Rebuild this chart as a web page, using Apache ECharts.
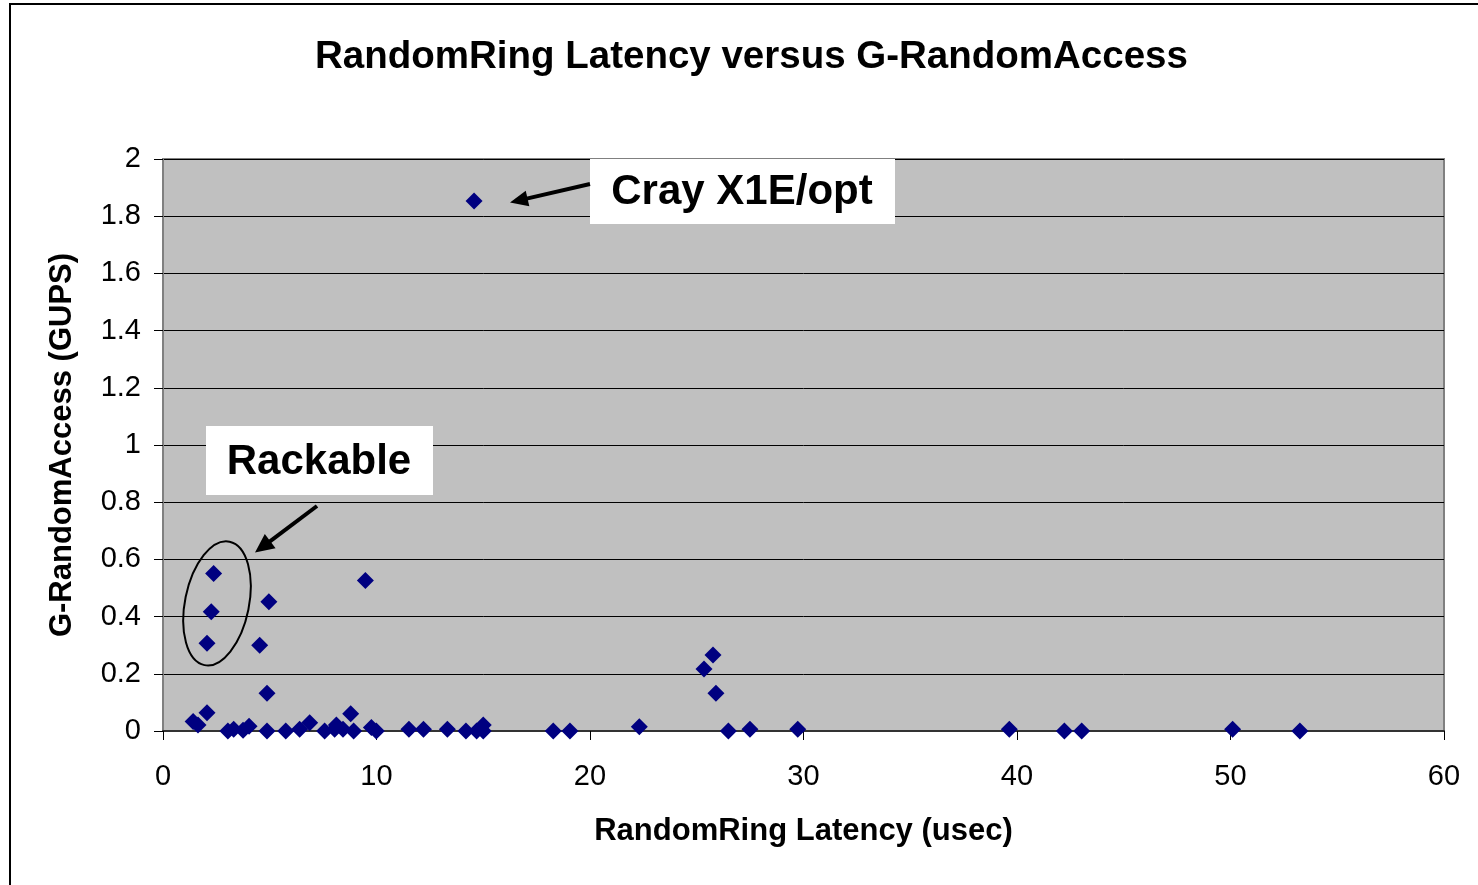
<!DOCTYPE html>
<html>
<head>
<meta charset="utf-8">
<script src="https://cdn.jsdelivr.net/npm/echarts@6/dist/echarts.min.js"></script>
<style>
html,body{margin:0;padding:0;background:#fff;}
#chart{width:1478px;height:885px;}
</style>
</head>
<body>
<div id="chart"></div>
<script>
// RandomRing latency (usec)
var latency = [1.41,1.64,2.06,2.06,2.26,2.37,3.04,3.31,3.75,4.03,4.53,4.87,4.87,4.96,5.75,6.40,6.87,7.57,8.04,8.12,8.43,8.79,8.93,9.48,9.76,9.99,11.52,12.2,13.32,14.19,14.57,14.69,15.0,15.0,18.28,19.06,22.31,25.34,25.76,25.9,26.48,27.49,29.73,39.64,42.22,43.03,50.1,53.25];
// G-RandomAccess (GUPS)
var gups = [0.033,0.021,0.064,0.307,0.417,0.551,0,0.006,0.003,0.017,0.30,0.132,0,0.452,0,0.006,0.029,0,0.006,0.021,0.006,0.06,0,0.526,0.012,0,0.006,0.006,0.006,0,1.853,0,0.021,0,0,0,0.015,0.217,0.266,0.132,0,0.006,0.006,0.006,0,0,0.006,0];
var xTicks = ['0','10','20','30','40','50','60'];
var yTicks = ['0','0.2','0.4','0.6','0.8','1','1.2','1.4','1.6','1.8','2'];
var titleText = 'RandomRing Latency versus G-RandomAccess';
var xName = 'RandomRing Latency (usec)';
var yName = 'G-RandomAccess (GUPS)';
var notes = ['Cray X1E/opt', 'Rackable'];

var points = latency.map(function(x, i){ return [x, gups[i]]; });
var FONT = 'Liberation Sans, Arial, sans-serif';

function arrow(x1, y1, x2, y2, headLen, headHalf, w){
  var dx = x2 - x1, dy = y2 - y1, L = Math.sqrt(dx*dx + dy*dy);
  var ux = dx / L, uy = dy / L, px = -uy, py = ux;
  var bx = x2 - ux * headLen, by = y2 - uy * headLen;
  return [
    {type:'line', shape:{x1:x1, y1:y1, x2:bx + ux*2, y2:by + uy*2}, style:{stroke:'#000', lineWidth:w}, z:100},
    {type:'polygon', shape:{points:[[x2,y2],[bx+px*headHalf, by+py*headHalf],[bx-px*headHalf, by-py*headHalf]]}, style:{fill:'#000'}, z:100}
  ];
}

var chart = echarts.init(document.getElementById('chart'), null, {renderer:'canvas'});
var graphics = [
  {type:'rect', shape:{x:10, y:4, width:1500, height:1000}, style:{fill:null, stroke:'#000', lineWidth:2}, z:-10, silent:true},
  {type:'rect', shape:{x:590, y:159, width:305, height:65}, style:{fill:'#fff'}, z:100},
  {type:'text', x:742, y:192, style:{text:notes[0], font:'bold 42px ' + FONT, fill:'#000', textAlign:'center', textVerticalAlign:'middle'}, z:101},
  {type:'rect', shape:{x:206, y:426, width:227, height:69}, style:{fill:'#fff'}, z:100},
  {type:'text', x:319, y:462, style:{text:notes[1], font:'bold 42px ' + FONT, fill:'#000', textAlign:'center', textVerticalAlign:'middle'}, z:101},
  {type:'ellipse', x:217, y:603.4, rotation:-0.2, shape:{cx:0, cy:0, rx:32, ry:63}, style:{fill:null, stroke:'#000', lineWidth:2}, z:100}
].concat(arrow(590,184,510,202.5,18,8,4)).concat(arrow(317,506,255,552.5,19,9,4));

chart.setOption({
  animation:false,
  backgroundColor:'#fff',
  title:{
    text:titleText, left:310, top:33,
    textStyle:{fontFamily:FONT, fontWeight:'bold', fontSize:38.5, color:'#000'}
  },
  grid:{left:163, right:34, top:159, bottom:154, show:true, backgroundColor:'#C0C0C0', borderColor:'#808080', borderWidth:2},
  xAxis:{
    type:'value', min:0, max:60, interval:10,
    name:xName, nameLocation:'middle', nameGap:85,
    nameTextStyle:{fontFamily:FONT, fontWeight:'bold', fontSize:31, color:'#000'},
    axisLine:{show:true, lineStyle:{color:'#333', width:2}},
    axisTick:{show:true, length:9, lineStyle:{color:'#000', width:1}},
    axisLabel:{margin:31, fontFamily:FONT, fontSize:29, color:'#000', formatter:function(v){ return xTicks[Math.round(v/10)]; }},
    splitLine:{show:false}
  },
  yAxis:{
    type:'value', min:0, max:2, interval:0.2,
    name:yName, nameLocation:'middle', nameGap:85,
    nameTextStyle:{fontFamily:FONT, fontWeight:'bold', fontSize:31, color:'#000'},
    axisLine:{show:true, lineStyle:{color:'#808080', width:2}},
    axisTick:{show:true, length:9, lineStyle:{color:'#000', width:1}},
    axisLabel:{margin:22, fontFamily:FONT, fontSize:29, color:'#000', formatter:function(v){ return yTicks[Math.round(v/0.2)]; }},
    splitLine:{show:true, lineStyle:{color:'#000', width:1}}
  },
  series:[{
    type:'scatter', data:points, symbol:'diamond', symbolSize:17,
    itemStyle:{color:'#000080', opacity:1}, z:10
  }],
  graphic:graphics
});
</script>
</body>
</html>
